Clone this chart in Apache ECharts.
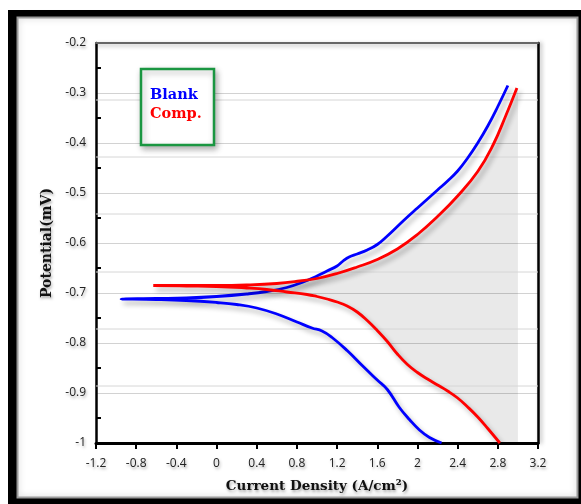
<!DOCTYPE html>
<html><head><meta charset="utf-8">
<script src="https://cdn.jsdelivr.net/npm/echarts@6/dist/echarts.min.js"></script>
<style>html,body{margin:0;padding:0;background:#fff}#c{width:581px;height:504px}</style>
</head><body><div id="c"></div>
<script>
// Axis ranges
const xMin = -1.2, xMax = 3.2, xStep = 0.4;
const yMin = -1.0, yMax = -0.2, yStep = 0.1;

// Blank (blue): anodic (upper) and cathodic (lower) branches, from the left tip outward
const blankUpperX = [-0.95, -0.6, -0.3, 0, 0.3, 0.5, 0.7, 0.85, 1.0, 1.1, 1.2, 1.26, 1.32, 1.4, 1.5, 1.6, 1.7, 1.8, 1.9, 2.0, 2.1, 2.2, 2.3, 2.4, 2.5, 2.6, 2.7, 2.8, 2.9];
const blankUpperY = [-0.712, -0.711, -0.71, -0.707, -0.702, -0.697, -0.689, -0.679, -0.666, -0.656, -0.646, -0.636, -0.628, -0.622, -0.614, -0.603, -0.586, -0.567, -0.548, -0.53, -0.512, -0.494, -0.476, -0.456, -0.43, -0.4, -0.366, -0.327, -0.285];
const blankLowerX = [-0.95, -0.6, -0.3, 0, 0.2, 0.4, 0.6, 0.8, 0.95, 1.05, 1.15, 1.3, 1.45, 1.6, 1.7, 1.82, 1.92, 2.02, 2.12, 2.24];
const blankLowerY = [-0.712, -0.713, -0.715, -0.719, -0.723, -0.73, -0.742, -0.758, -0.77, -0.776, -0.789, -0.815, -0.845, -0.874, -0.893, -0.929, -0.953, -0.974, -0.989, -1.0];

// Comp. (red)
const compUpperX = [-0.63, -0.3, 0, 0.3, 0.6, 0.83, 1.0, 1.2, 1.4, 1.6, 1.8, 2.0, 2.2, 2.4, 2.6, 2.75, 2.88, 2.99];
const compUpperY = [-0.685, -0.685, -0.685, -0.684, -0.681, -0.676, -0.671, -0.661, -0.648, -0.633, -0.612, -0.583, -0.547, -0.506, -0.457, -0.405, -0.345, -0.29];
const compLowerX = [-0.63, -0.3, 0, 0.3, 0.5, 0.7, 0.9, 1.0, 1.1, 1.2, 1.3, 1.4, 1.5, 1.6, 1.7, 1.8, 1.9, 2.0, 2.1, 2.2, 2.3, 2.4, 2.5, 2.6, 2.7, 2.82];
const compLowerY = [-0.685, -0.686, -0.687, -0.69, -0.693, -0.698, -0.703, -0.707, -0.712, -0.718, -0.726, -0.738, -0.755, -0.775, -0.797, -0.822, -0.843, -0.859, -0.872, -0.884, -0.896, -0.91, -0.928, -0.948, -0.971, -1.0];

// Shadow region right of the red curve, and faint offset reference lines
const shadeRightX = 3.0;
const shadowLinesY = [-0.314, -0.428, -0.542, -0.658, -0.772, -0.886];

function branchPath(ux, uy, lx, ly) {
  const pts = [];
  for (let i = ux.length - 1; i >= 0; i--) pts.push([ux[i], uy[i]]);
  for (let i = 1; i < lx.length; i++) pts.push([lx[i], ly[i]]);
  return pts;
}
const blankData = branchPath(blankUpperX, blankUpperY, blankLowerX, blankLowerY);
const compData = branchPath(compUpperX, compUpperY, compLowerX, compLowerY);

const txtShadow = {textShadowColor: 'rgba(0,0,0,0.35)', textShadowBlur: 3, textShadowOffsetX: 1, textShadowOffsetY: 2};
const lineShadow = {shadowColor: 'rgba(0,0,0,0.3)', shadowBlur: 5, shadowOffsetX: 3, shadowOffsetY: 4};

const chart = echarts.init(document.getElementById('c'));
chart.setOption({
  animation: false,
  backgroundColor: '#fff',
  grid: {left: 96, right: 43, top: 43, bottom: 61},
  graphic: [
    {type: 'rect', z: -10, silent: true, shape: {x: 8, y: 10, width: 573, height: 494}, style: {fill: '#000'}},
    {type: 'rect', z: -9, silent: true, shape: {x: 17.5, y: 17.5, width: 560, height: 480}, style: {fill: '#fff', stroke: '#9a9a9a', lineWidth: 2, shadowColor: 'rgba(0,0,0,0.25)', shadowBlur: 6}},
    {type: 'rect', z: 10, silent: true, shape: {x: 141, y: 69, width: 73, height: 76}, style: {fill: '#fff', stroke: '#1a9641', lineWidth: 2.5, shadowColor: 'rgba(0,0,0,0.3)', shadowBlur: 6, shadowOffsetX: 2, shadowOffsetY: 3}},
    {type: 'text', z: 11, silent: true, style: {x: 150, y: 95, text: 'Blank', fill: '#0000ff', font: 'bold 14.5px "DejaVu Serif"', verticalAlign: 'middle'}},
    {type: 'text', z: 11, silent: true, style: {x: 150, y: 114, text: 'Comp.', fill: '#ff0000', font: 'bold 14.5px "DejaVu Serif"', verticalAlign: 'middle'}}
  ],
  xAxis: [{
    type: 'value', min: xMin, max: xMax, interval: xStep,
    name: 'Current Density (A/cm²)', nameLocation: 'middle', nameGap: 36,
    nameTextStyle: Object.assign({fontFamily: 'DejaVu Serif', fontWeight: 'bold', fontSize: 13.5, color: '#111'}, txtShadow),
    axisLine: {onZero: false, lineStyle: {color: '#000', width: 3}},
    axisTick: {show: true, length: 6, lineStyle: {color: '#000', width: 2}},
    axisLabel: Object.assign({margin: 15, fontFamily: 'Open Sans', fontSize: 12, color: '#222'}, txtShadow),
    splitLine: {show: false}
  }, {
    type: 'value', position: 'top', min: xMin, max: xMax,
    axisLine: {show: true, onZero: false, lineStyle: {color: '#666', width: 2, shadowColor: 'rgba(0,0,0,0.3)', shadowBlur: 4, shadowOffsetY: 2}},
    axisTick: {show: false}, axisLabel: {show: false}, splitLine: {show: false}
  }],
  yAxis: [{
    type: 'value', min: yMin, max: yMax, interval: yStep,
    name: 'Potential(mV)', nameLocation: 'middle', nameGap: 42,
    nameTextStyle: Object.assign({fontFamily: 'DejaVu Serif', fontWeight: 'bold', fontSize: 14, color: '#111'}, txtShadow),
    axisLine: {onZero: false, lineStyle: {color: '#000', width: 2.5}},
    axisTick: {show: false, inside: true},
    minorTick: {show: true, splitNumber: 2, length: 5, lineStyle: {color: '#000', width: 2}},
    axisLabel: Object.assign({margin: 10, fontFamily: 'Open Sans', fontSize: 12, color: '#222'}, txtShadow),
    splitLine: {show: true, lineStyle: {color: '#d2d2d2', width: 1}}
  }, {
    type: 'value', position: 'right', min: yMin, max: yMax,
    axisLine: {show: true, onZero: false, lineStyle: {color: '#000', width: 2.5, shadowColor: 'rgba(0,0,0,0.3)', shadowBlur: 4, shadowOffsetX: 2}},
    axisTick: {show: false}, axisLabel: {show: false}, splitLine: {show: false}
  }],
  series: [{
    type: 'custom', xAxisIndex: 0, yAxisIndex: 0, z: 1, silent: true, clip: true,
    data: [[0, 0]],
    renderItem: function (params, api) {
      const poly = compData.map(p => api.coord(p));
      poly.push(api.coord([shadeRightX, yMin]));
      poly.push(api.coord([shadeRightX, compUpperY[compUpperY.length - 1]]));
      const children = [{type: 'polygon', shape: {points: poly, smooth: 0}, style: {fill: 'rgba(0,0,0,0.085)'}}];
      shadowLinesY.forEach(v => {
        const a = api.coord([xMin, v]), b = api.coord([xMax, v]);
        children.push({type: 'line', shape: {x1: a[0], y1: a[1], x2: b[0], y2: b[1]}, style: {stroke: '#d6d6d6', lineWidth: 1}});
      });
      return {type: 'group', children: children};
    }
  }, {
    name: 'Blank', type: 'line', xAxisIndex: 0, yAxisIndex: 0, z: 3,
    data: blankData, showSymbol: false, smooth: 0.45,
    lineStyle: Object.assign({color: '#0000ff', width: 2.8}, lineShadow)
  }, {
    name: 'Comp.', type: 'line', xAxisIndex: 0, yAxisIndex: 0, z: 3,
    data: compData, showSymbol: false, smooth: 0.45,
    lineStyle: Object.assign({color: '#ff0000', width: 2.8}, lineShadow)
  }]
});
</script></body></html>
